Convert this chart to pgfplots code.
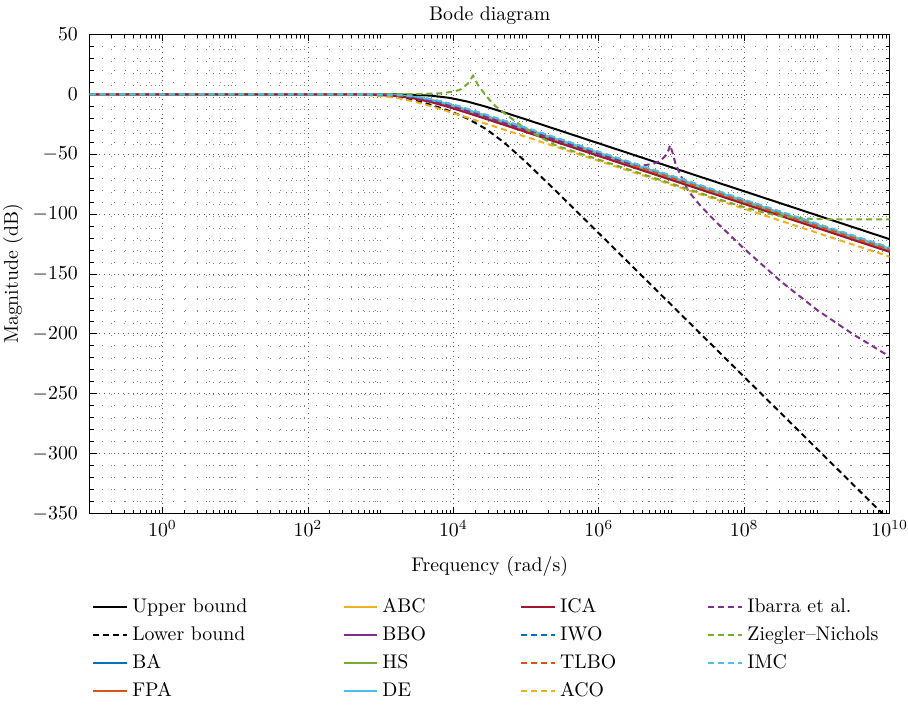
\documentclass[border=0pt]{standalone}
\usepackage{pgfplots}
\pgfplotsset{compat=1.18}
\definecolor{mBlue}{rgb}{0,0.447,0.741}
\definecolor{mOrange}{rgb}{0.85,0.325,0.098}
\definecolor{mYellow}{rgb}{0.929,0.694,0.125}
\definecolor{mPurple}{rgb}{0.494,0.184,0.556}
\definecolor{mGreen}{rgb}{0.466,0.674,0.188}
\definecolor{mCyan}{rgb}{0.301,0.745,0.933}
\definecolor{mRed}{rgb}{0.635,0.078,0.184}
\tikzset{dsh/.style={dash pattern=on 3pt off 2pt}}
\begin{document}
\begin{tikzpicture}
\begin{axis}[
  scale only axis, width=404pt, height=242pt,
  xmin=-1, xmax=10, ymin=-350, ymax=50,
  enlargelimits=false,
  title={Bode diagram},
  title style={yshift=-4.5pt},
  xlabel={Frequency (rad/s)}, ylabel={Magnitude (dB)},
  xlabel style={yshift=-3pt},
  ylabel style={inner ysep=1.5pt},
  yticklabel style={xshift=-2.5pt},
  xticklabel style={inner xsep=0pt},
  xtick={0,2,4,6,8,10},
  xticklabels={$10^{0}$,$10^{2}$,$10^{4}$,$10^{6}$,$10^{8}$,$10^{10}$},
  minor xtick={-0.699,-0.523,-0.398,-0.301,-0.222,-0.155,-0.097,-0.046,
    0.301,0.477,0.602,0.699,0.778,0.845,0.903,0.954,
    1,1.301,1.477,1.602,1.699,1.778,1.845,1.903,1.954,
    2.301,2.477,2.602,2.699,2.778,2.845,2.903,2.954,
    3,3.301,3.477,3.602,3.699,3.778,3.845,3.903,3.954,
    4.301,4.477,4.602,4.699,4.778,4.845,4.903,4.954,
    5,5.301,5.477,5.602,5.699,5.778,5.845,5.903,5.954,
    6.301,6.477,6.602,6.699,6.778,6.845,6.903,6.954,
    7,7.301,7.477,7.602,7.699,7.778,7.845,7.903,7.954,
    8.301,8.477,8.602,8.699,8.778,8.845,8.903,8.954,
    9,9.301,9.477,9.602,9.699,9.778,9.845,9.903,9.954},
  ytick={-350,-300,-250,-200,-150,-100,-50,0,50},
  minor y tick num=4,
  tick align=inside,
  major tick length=3.5pt, minor tick length=2pt,
  every tick/.style={black, line width=0.4pt},
  grid=both,
  major grid style={black!65, line width=0.4pt, dash pattern=on 0.4pt off 2pt},
  minor grid style={black!50, line width=0.4pt, dash pattern=on 0.4pt off 5.6pt},
  axis line style={black, line width=0.6pt},
  legend columns=4,
  legend cell align=left,
  legend style={draw=none, fill=none, at={(-0.005,-0.160)}, anchor=north west,
    /tikz/column 2/.style={column sep=46pt},
    /tikz/column 4/.style={column sep=45.5pt},
    /tikz/column 6/.style={column sep=44pt},
    row sep=1.5pt},
  every axis plot/.append style={line width=1pt},
]
% Upper bound
\addplot[black, solid, forget plot] coordinates {(-1,0) (2.95,-0.04) (3.20,-0.14) (3.45,-0.41) (3.70,-1.19) (3.95,-3.01) (4.20,-6.19) (4.45,-10.41) (4.70,-15.14) (4.95,-20.04) (5.20,-25.01) (5.45,-30.00) (5.95,-40.00) (10,-121.0)};
% Lower bound
\addplot[black, dsh, forget plot] coordinates {(-1,0) (2.3,-0.04) (2.8,-0.42) (3.0,-0.98) (3.3,-3.05) (3.6,-7.14) (3.86,-12.07) (4.0,-15.2) (4.2,-20.46) (4.45,-29.04) (4.7,-40.39) (5.0,-56.66) (5.4,-80.11) (6.0,-116.0) (7.0,-176.0) (8.0,-236.0) (9.0,-296.0) (10,-356.0)};
% BA
\addplot[mBlue, solid, forget plot] coordinates {(-1,0) (2.53,-0.04) (2.78,-0.14) (3.03,-0.41) (3.28,-1.19) (3.53,-3.01) (3.78,-6.19) (4.03,-10.41) (4.28,-15.14) (4.53,-20.04) (4.78,-25.01) (5.03,-30.00) (5.53,-40.00) (10,-129.4)};
% FPA
\addplot[mOrange, solid, forget plot] coordinates {(-1,0) (2.47,-0.04) (2.72,-0.14) (2.97,-0.41) (3.22,-1.19) (3.47,-3.01) (3.72,-6.19) (3.97,-10.41) (4.22,-15.14) (4.47,-20.04) (4.72,-25.01) (4.97,-30.00) (5.47,-40.00) (10,-130.6)};
% ABC
\addplot[mYellow, solid, forget plot] coordinates {(-1,0) (2.56,-0.04) (2.81,-0.14) (3.06,-0.41) (3.31,-1.19) (3.56,-3.01) (3.81,-6.19) (4.06,-10.41) (4.31,-15.14) (4.56,-20.04) (4.81,-25.01) (5.06,-30.00) (5.56,-40.00) (10,-128.8)};
% BBO
\addplot[mPurple, solid, forget plot] coordinates {(-1,0) (2.45,-0.04) (2.70,-0.14) (2.95,-0.41) (3.20,-1.19) (3.45,-3.01) (3.70,-6.19) (3.95,-10.41) (4.20,-15.14) (4.45,-20.04) (4.70,-25.01) (4.95,-30.00) (5.45,-40.00) (10,-131.0)};
% HS
\addplot[mGreen, solid, forget plot] coordinates {(-1,0) (2.50,-0.04) (2.75,-0.14) (3.00,-0.41) (3.25,-1.19) (3.50,-3.01) (3.75,-6.19) (4.00,-10.41) (4.25,-15.14) (4.50,-20.04) (4.75,-25.01) (5.00,-30.00) (5.50,-40.00) (10,-130.0)};
% DE
\addplot[mCyan, solid, forget plot] coordinates {(-1,0) (2.54,-0.04) (2.79,-0.14) (3.04,-0.41) (3.29,-1.19) (3.54,-3.01) (3.79,-6.19) (4.04,-10.41) (4.29,-15.14) (4.54,-20.04) (4.79,-25.01) (5.04,-30.00) (5.54,-40.00) (10,-129.2)};
% ICA
\addplot[mRed, solid, forget plot] coordinates {(-1,0) (2.42,-0.04) (2.67,-0.14) (2.92,-0.41) (3.17,-1.19) (3.42,-3.01) (3.67,-6.19) (3.92,-10.41) (4.17,-15.14) (4.42,-20.04) (4.67,-25.01) (4.92,-30.00) (5.42,-40.00) (10,-131.6)};
% IWO
\addplot[mBlue, dsh, forget plot] coordinates {(-1,0) (2.59,-0.04) (2.84,-0.14) (3.09,-0.41) (3.34,-1.19) (3.59,-3.01) (3.84,-6.19) (4.09,-10.41) (4.34,-15.14) (4.59,-20.04) (4.84,-25.01) (5.09,-30.00) (5.59,-40.00) (10,-128.2)};
% TLBO
\addplot[mOrange, dsh, forget plot] coordinates {(-1,0) (2.51,-0.04) (2.76,-0.14) (3.01,-0.41) (3.26,-1.19) (3.51,-3.01) (3.76,-6.19) (4.01,-10.41) (4.26,-15.14) (4.51,-20.04) (4.76,-25.01) (5.01,-30.00) (5.51,-40.00) (10,-129.8)};
% ACO
\addplot[mYellow, dsh, forget plot] coordinates {(-1,0) (2.22,-0.04) (2.47,-0.14) (2.72,-0.41) (2.97,-1.19) (3.22,-3.01) (3.47,-6.19) (3.72,-10.41) (3.97,-15.14) (4.22,-20.04) (4.47,-25.01) (4.72,-30.00) (5.22,-40.00) (10,-135.6)};
% Ibarra et al.
\addplot[mPurple, dsh, forget plot] coordinates {(-1,0) (2.50,-0.04) (2.75,-0.14) (3.00,-0.41) (3.25,-1.19) (3.50,-3.01) (3.75,-6.19) (4.00,-10.41) (4.25,-15.14) (4.50,-20.04) (4.75,-25.01) (5.00,-30.00) (5.50,-40.00) (6.00,-50.0) (6.40,-57.6) (6.60,-59.5) (6.75,-58.0) (6.85,-55.5) (6.92,-51.0) (6.96,-46.5) (6.98,-42.5) (7.01,-48.0) (7.05,-57.0) (7.10,-64.5) (7.23,-80.8) (7.40,-93.3) (7.60,-105.8) (8.00,-129.0) (8.50,-156.0) (9.00,-180.0) (9.50,-200.5) (10,-219.0)};
% Ziegler-Nichols
\addplot[mGreen, dsh, forget plot] coordinates {(-1,0) (3.0,0) (3.5,0.2) (3.82,0.8) (4.0,2.2) (4.1,4.0) (4.2,9.0) (4.27,15.5) (4.35,6.5) (4.5,-5.0) (4.6,-11.0) (4.78,-19.4) (4.97,-27.8) (5.2,-36.0) (5.42,-43.0) (6.0,-54.6) (7.0,-74.6) (7.67,-88.0) (8.0,-94.2) (8.3,-99.3) (8.52,-102.0) (8.7,-103.1) (9.0,-104.3) (9.5,-104.5) (10,-104.5)};
% IMC
\addplot[mCyan, dsh, forget plot] coordinates {(-1,0) (2.60,-0.04) (2.85,-0.14) (3.10,-0.41) (3.35,-1.19) (3.60,-3.01) (3.85,-6.19) (4.10,-10.41) (4.35,-15.14) (4.60,-20.04) (4.85,-25.01) (5.10,-30.00) (5.60,-40.00) (10,-128.0)};
% legend in MATLAB column-wise order (row-wise listing)
\addlegendimage{black, solid, line width=1.2pt}
\addlegendentry{Upper bound}
\addlegendimage{mYellow, solid, line width=1.2pt}
\addlegendentry{ABC}
\addlegendimage{mRed, solid, line width=1.2pt}
\addlegendentry{ICA}
\addlegendimage{mPurple, dsh, line width=1.2pt}
\addlegendentry{Ibarra et al.}
\addlegendimage{black, dsh, line width=1.2pt}
\addlegendentry{Lower bound}
\addlegendimage{mPurple, solid, line width=1.2pt}
\addlegendentry{BBO}
\addlegendimage{mBlue, dsh, line width=1.2pt}
\addlegendentry{IWO}
\addlegendimage{mGreen, dsh, line width=1.2pt}
\addlegendentry{Ziegler--Nichols}
\addlegendimage{mBlue, solid, line width=1.2pt}
\addlegendentry{BA}
\addlegendimage{mGreen, solid, line width=1.2pt}
\addlegendentry{HS}
\addlegendimage{mOrange, dsh, line width=1.2pt}
\addlegendentry{TLBO}
\addlegendimage{mCyan, dsh, line width=1.2pt}
\addlegendentry{IMC}
\addlegendimage{mOrange, solid, line width=1.2pt}
\addlegendentry{FPA}
\addlegendimage{mCyan, solid, line width=1.2pt}
\addlegendentry{DE}
\addlegendimage{mYellow, dsh, line width=1.2pt}
\addlegendentry{ACO}
\end{axis}
\end{tikzpicture}
\end{document}
